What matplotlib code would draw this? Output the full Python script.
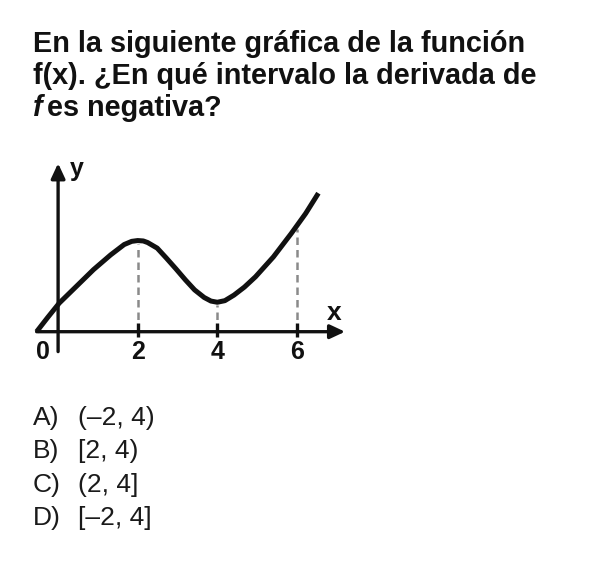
import numpy as np
import matplotlib.pyplot as plt

plt.rcParams['font.family'] = ['Liberation Sans', 'DejaVu Sans']

# question text
title_lines = ['En la siguiente gráfica de la función',
               'f(x). ¿En qué intervalo la derivada de']
title_f = 'f'
title_tail = 'es negativa?'

# answer options
option_labels = ['A)', 'B)', 'C)', 'D)']
option_values = ['(\u20132, 4)', '[2, 4)', '(2, 4]', '[\u20132, 4]']

# curve (axis units)
curve_x = [-0.54, -0.26, 0.03, 0.46, 0.89, 1.32, 1.66, 1.85, 2.00, 2.14,
           2.25, 2.49, 2.72, 2.96, 3.20, 3.43, 3.67, 3.84, 4.00, 4.19,
           4.42, 4.68, 4.96, 5.41, 5.86, 6.22, 6.54]
curve_y = [0.00, 0.36, 0.72, 1.14, 1.56, 1.93, 2.19, 2.27, 2.29, 2.28,
           2.24, 2.10, 1.85, 1.58, 1.30, 1.05, 0.86, 0.77, 0.74, 0.78,
           0.92, 1.12, 1.38, 1.88, 2.47, 2.97, 3.48]

tick_values = [2, 4, 6]
tick_labels = ['2', '4', '6']
drop_values = [2, 4, 6]

W, H = 590, 572
fig = plt.figure(figsize=(W / 100, H / 100), dpi=100)

# axes placed so 1 unit = 39.8 px, origin at (58.1, 331.7) px
s, ox, oy = 39.8, 58.1, 331.7
xl, yl = (-0.8, 7.6), (-0.8, 4.6)
left = ox + xl[0] * s
right = ox + xl[1] * s
bottom = oy - yl[0] * s
top = oy - yl[1] * s
ax = fig.add_axes([left / W, 1 - bottom / H, (right - left) / W, (bottom - top) / H])
ax.set_xlim(*xl)
ax.set_ylim(*yl)
ax.axis('off')

ink = '#111111'

# dashed drop lines
for xv in drop_values:
    yv = np.interp(xv, curve_x, curve_y)
    ax.plot([xv, xv], [0, yv - 0.08], color='#8a8a8a', lw=1.8,
            linestyle=(0, (3, 2)), zorder=1)

# axes with arrows
arrow = dict(arrowstyle='-|>,head_length=0.6,head_width=0.28', lw=2.4,
             color=ink, mutation_scale=15, shrinkA=0, shrinkB=0)
ax.annotate('', xy=(7.21, 0), xytext=(-0.54, 0), arrowprops=arrow, zorder=2)
ax.annotate('', xy=(0, 4.23), xytext=(0, -0.5), arrowprops=arrow, zorder=2)
ax.vlines(tick_values, -0.13, 0.23, color=ink, lw=2.4, zorder=2)

# curve
ax.plot(curve_x, curve_y, color=ink, lw=3.6, solid_capstyle='butt',
        solid_joinstyle='round', zorder=3)

# tick labels
for xv, lab in zip(tick_values, tick_labels):
    ax.text(xv, -0.22, lab, ha='center', va='top', fontsize=18,
            fontweight='bold', color=ink)
ax.text(-0.38, -0.22, '0', ha='center', va='top', fontsize=18,
        fontweight='bold', color=ink)
ax.text(6.93, 0.30, 'x', ha='center', va='baseline', fontsize=19,
        fontweight='bold', color=ink)
ax.text(0.46, 3.91, 'y', ha='center', va='baseline', fontsize=18,
        fontweight='bold', color=ink)

# question
tx = 33 / W
for i, line in enumerate(title_lines):
    fig.text(tx, 1 - (51.7 + 32.5 * i) / H, line, fontsize=20.8,
             fontweight='bold', color=ink, va='baseline')
fig.text(tx, 1 - 116.5 / H, title_f, fontsize=20.8, fontweight='bold',
         style='italic', color=ink, va='baseline')
fig.text(47 / W, 1 - 116.5 / H, title_tail, fontsize=20.8, fontweight='bold',
         color=ink, va='baseline')

# options
for i, (lab, val) in enumerate(zip(option_labels, option_values)):
    yb = 1 - (425 + 33.3 * i) / H
    fig.text(33 / W, yb, lab, fontsize=19, color='#1a1a1a', va='baseline')
    fig.text(78 / W, yb, val, fontsize=19, color='#1a1a1a', va='baseline')

fig.savefig('out.png', dpi=100, facecolor='white')
